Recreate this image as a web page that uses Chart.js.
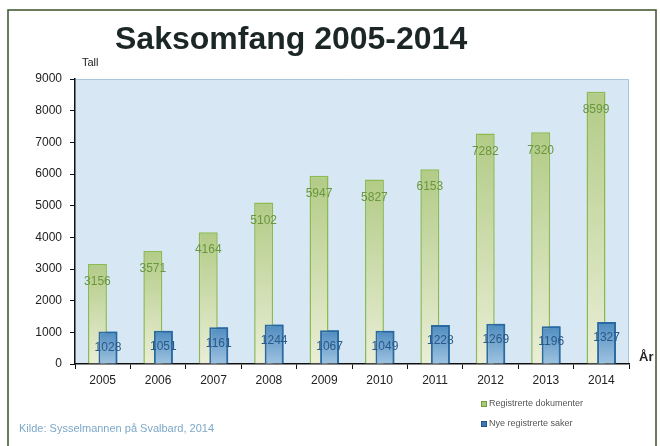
<!DOCTYPE html>
<html>
<head>
<meta charset="utf-8">
<script src="https://cdn.jsdelivr.net/npm/chart.js@4/dist/chart.umd.min.js"></script>
<style>
  html, body { margin: 0; padding: 0; background: #ffffff; }
  #wrap { width: 660px; height: 446px; position: relative; }
</style>
</head>
<body>
<div id="wrap"><canvas id="saksomfang"></canvas></div>
<script>
const years = ["2005", "2006", "2007", "2008", "2009", "2010", "2011", "2012", "2013", "2014"];
const dokumenter = [3156, 3571, 4164, 5102, 5947, 5827, 6153, 7282, 7320, 8599];
const saker = [1028, 1051, 1161, 1244, 1067, 1049, 1228, 1269, 1196, 1327];
const seriesNames = ["Registrerte dokumenter", "Nye registrerte saker"];
const yTicks = [0, 1000, 2000, 3000, 4000, 5000, 6000, 7000, 8000, 9000];

const FONT = "'Liberation Sans', Arial, sans-serif";

// Gradient for a single bar, darker at the top of the bar.
function barGradient(c, top, bottom) {
  const chart = c.chart;
  const area = chart.chartArea;
  if (!area || c.type !== "data") return top;
  const y = chart.scales.y.getPixelForValue(c.raw);
  const g = chart.ctx.createLinearGradient(0, y, 0, area.bottom);
  g.addColorStop(0, top);
  g.addColorStop(1, bottom);
  return g;
}

const decorations = {
  id: "decorations",
  beforeDraw(chart) {
    const { ctx, chartArea: a } = chart;
    ctx.save();
    // plot background
    ctx.fillStyle = "#d7e7f3";
    ctx.fillRect(a.left, a.top, a.right - a.left, a.bottom - a.top);
    ctx.strokeStyle = "#a8c6de";
    ctx.lineWidth = 1;
    ctx.beginPath();
    ctx.moveTo(a.left, a.top + 0.5);
    ctx.lineTo(a.right - 0.5, a.top + 0.5);
    ctx.lineTo(a.right - 0.5, a.bottom);
    ctx.stroke();
    // outer frame
    ctx.strokeStyle = "#3b5228";
    ctx.lineWidth = 1.5;
    ctx.beginPath();
    ctx.moveTo(8, 450);
    ctx.lineTo(8, 10);
    ctx.lineTo(656, 10);
    ctx.lineTo(656, 450);
    ctx.stroke();
    ctx.restore();
  },
  afterDatasetsDraw(chart) {
    const { ctx } = chart;
    // blue bars sit in front of the green ones
    chart.getDatasetMeta(1).controller.draw();

    ctx.save();
    ctx.font = "12px " + FONT;
    ctx.textAlign = "center";
    ctx.textBaseline = "middle";
    ctx.fillStyle = "#6a963e";
    chart.getDatasetMeta(0).data.forEach((bar, i) => {
      ctx.fillText(String(dokumenter[i]), bar.x, bar.y + 18);
    });
    ctx.fillStyle = "#27598a";
    chart.getDatasetMeta(1).data.forEach((bar, i) => {
      ctx.fillText(String(saker[i]), bar.x, bar.y + 16);
    });
    ctx.restore();
  },
  afterDraw(chart) {
    const { ctx, chartArea: a } = chart;
    ctx.save();
    // title
    ctx.fillStyle = "#1c2626";
    ctx.font = "bold 32px " + FONT;
    ctx.textBaseline = "alphabetic";
    ctx.textAlign = "left";
    ctx.fillText("Saksomfang 2005-2014", 115, 49);
    // axis names
    ctx.font = "11px " + FONT;
    ctx.fillStyle = "#222";
    ctx.fillText("Tall", 82, 66);
    ctx.font = "bold 13px " + FONT;
    ctx.fillText("År", 639, a.bottom - 3);
    // legend
    const legend = [
      { fill: "#a9c97a", stroke: "#6f9e3f" },
      { fill: "#3c7cb2", stroke: "#1f5688" },
    ];
    ctx.font = "9px " + FONT;
    ctx.textBaseline = "middle";
    legend.forEach((l, i) => {
      const y = 404 + i * 20;
      ctx.fillStyle = l.fill;
      ctx.fillRect(481, y - 3, 6, 6);
      ctx.strokeStyle = l.stroke;
      ctx.lineWidth = 1;
      ctx.strokeRect(481.5, y - 2.5, 5, 5);
      ctx.fillStyle = "#555";
      ctx.fillText(seriesNames[i], 489, y);
    });
    // source
    ctx.font = "11px " + FONT;
    ctx.fillStyle = "#7ca8c8";
    ctx.fillText("Kilde: Sysselmannen på Svalbard, 2014", 19, 429);
    ctx.restore();
  },
};

new Chart(document.getElementById("saksomfang").getContext("2d"), {
  type: "bar",
  data: {
    labels: years,
    datasets: [
      {
        label: seriesNames[0],
        data: dokumenter,
        backgroundColor: (c) => barGradient(c, "#b2cb86", "#eaeed6"),
        borderColor: "#8cba4e",
        borderWidth: 1.5,
      },
      {
        label: seriesNames[1],
        data: saker,
        backgroundColor: (c) => barGradient(c, "#4f8cc0", "#9fc3e0"),
        borderColor: "#2a6aa2",
        borderWidth: 2,
      },
    ],
  },
  plugins: [decorations],
  options: {
    responsive: true,
    maintainAspectRatio: false,
    animation: false,
    datasets: {
      bar: {
        categoryPercentage: 0.38,
        barPercentage: 1.8,
      },
    },
    layout: {
      padding: { left: 0, right: 31, top: 79, bottom: 52 },
    },
    plugins: {
      legend: { display: false },
      title: { display: false },
      tooltip: { enabled: false },
    },
    scales: {
      x: {
        afterFit: (scale) => { scale.height = 30; },
        grid: {
          drawOnChartArea: false,
          drawTicks: true,
          tickLength: 5,
          tickColor: "#111",
          offset: true,
        },
        border: { color: "#111", width: 1.5 },
        ticks: {
          color: "#222",
          padding: 4,
          font: { family: FONT, size: 12 },
        },
      },
      y: {
        min: 0,
        max: 9000,
        afterFit: (scale) => { scale.width = 75; },
        afterBuildTicks: (scale) => { scale.ticks = yTicks.map((v) => ({ value: v })); },
        grid: {
          drawOnChartArea: false,
          drawTicks: true,
          tickLength: 5,
          tickColor: "#111",
        },
        border: { color: "#111", width: 1.5 },
        ticks: {
          color: "#222",
          padding: 8,
          font: { family: FONT, size: 12 },
          callback: (v) => String(v),
        },
      },
    },
  },
});
</script>
</body>
</html>
